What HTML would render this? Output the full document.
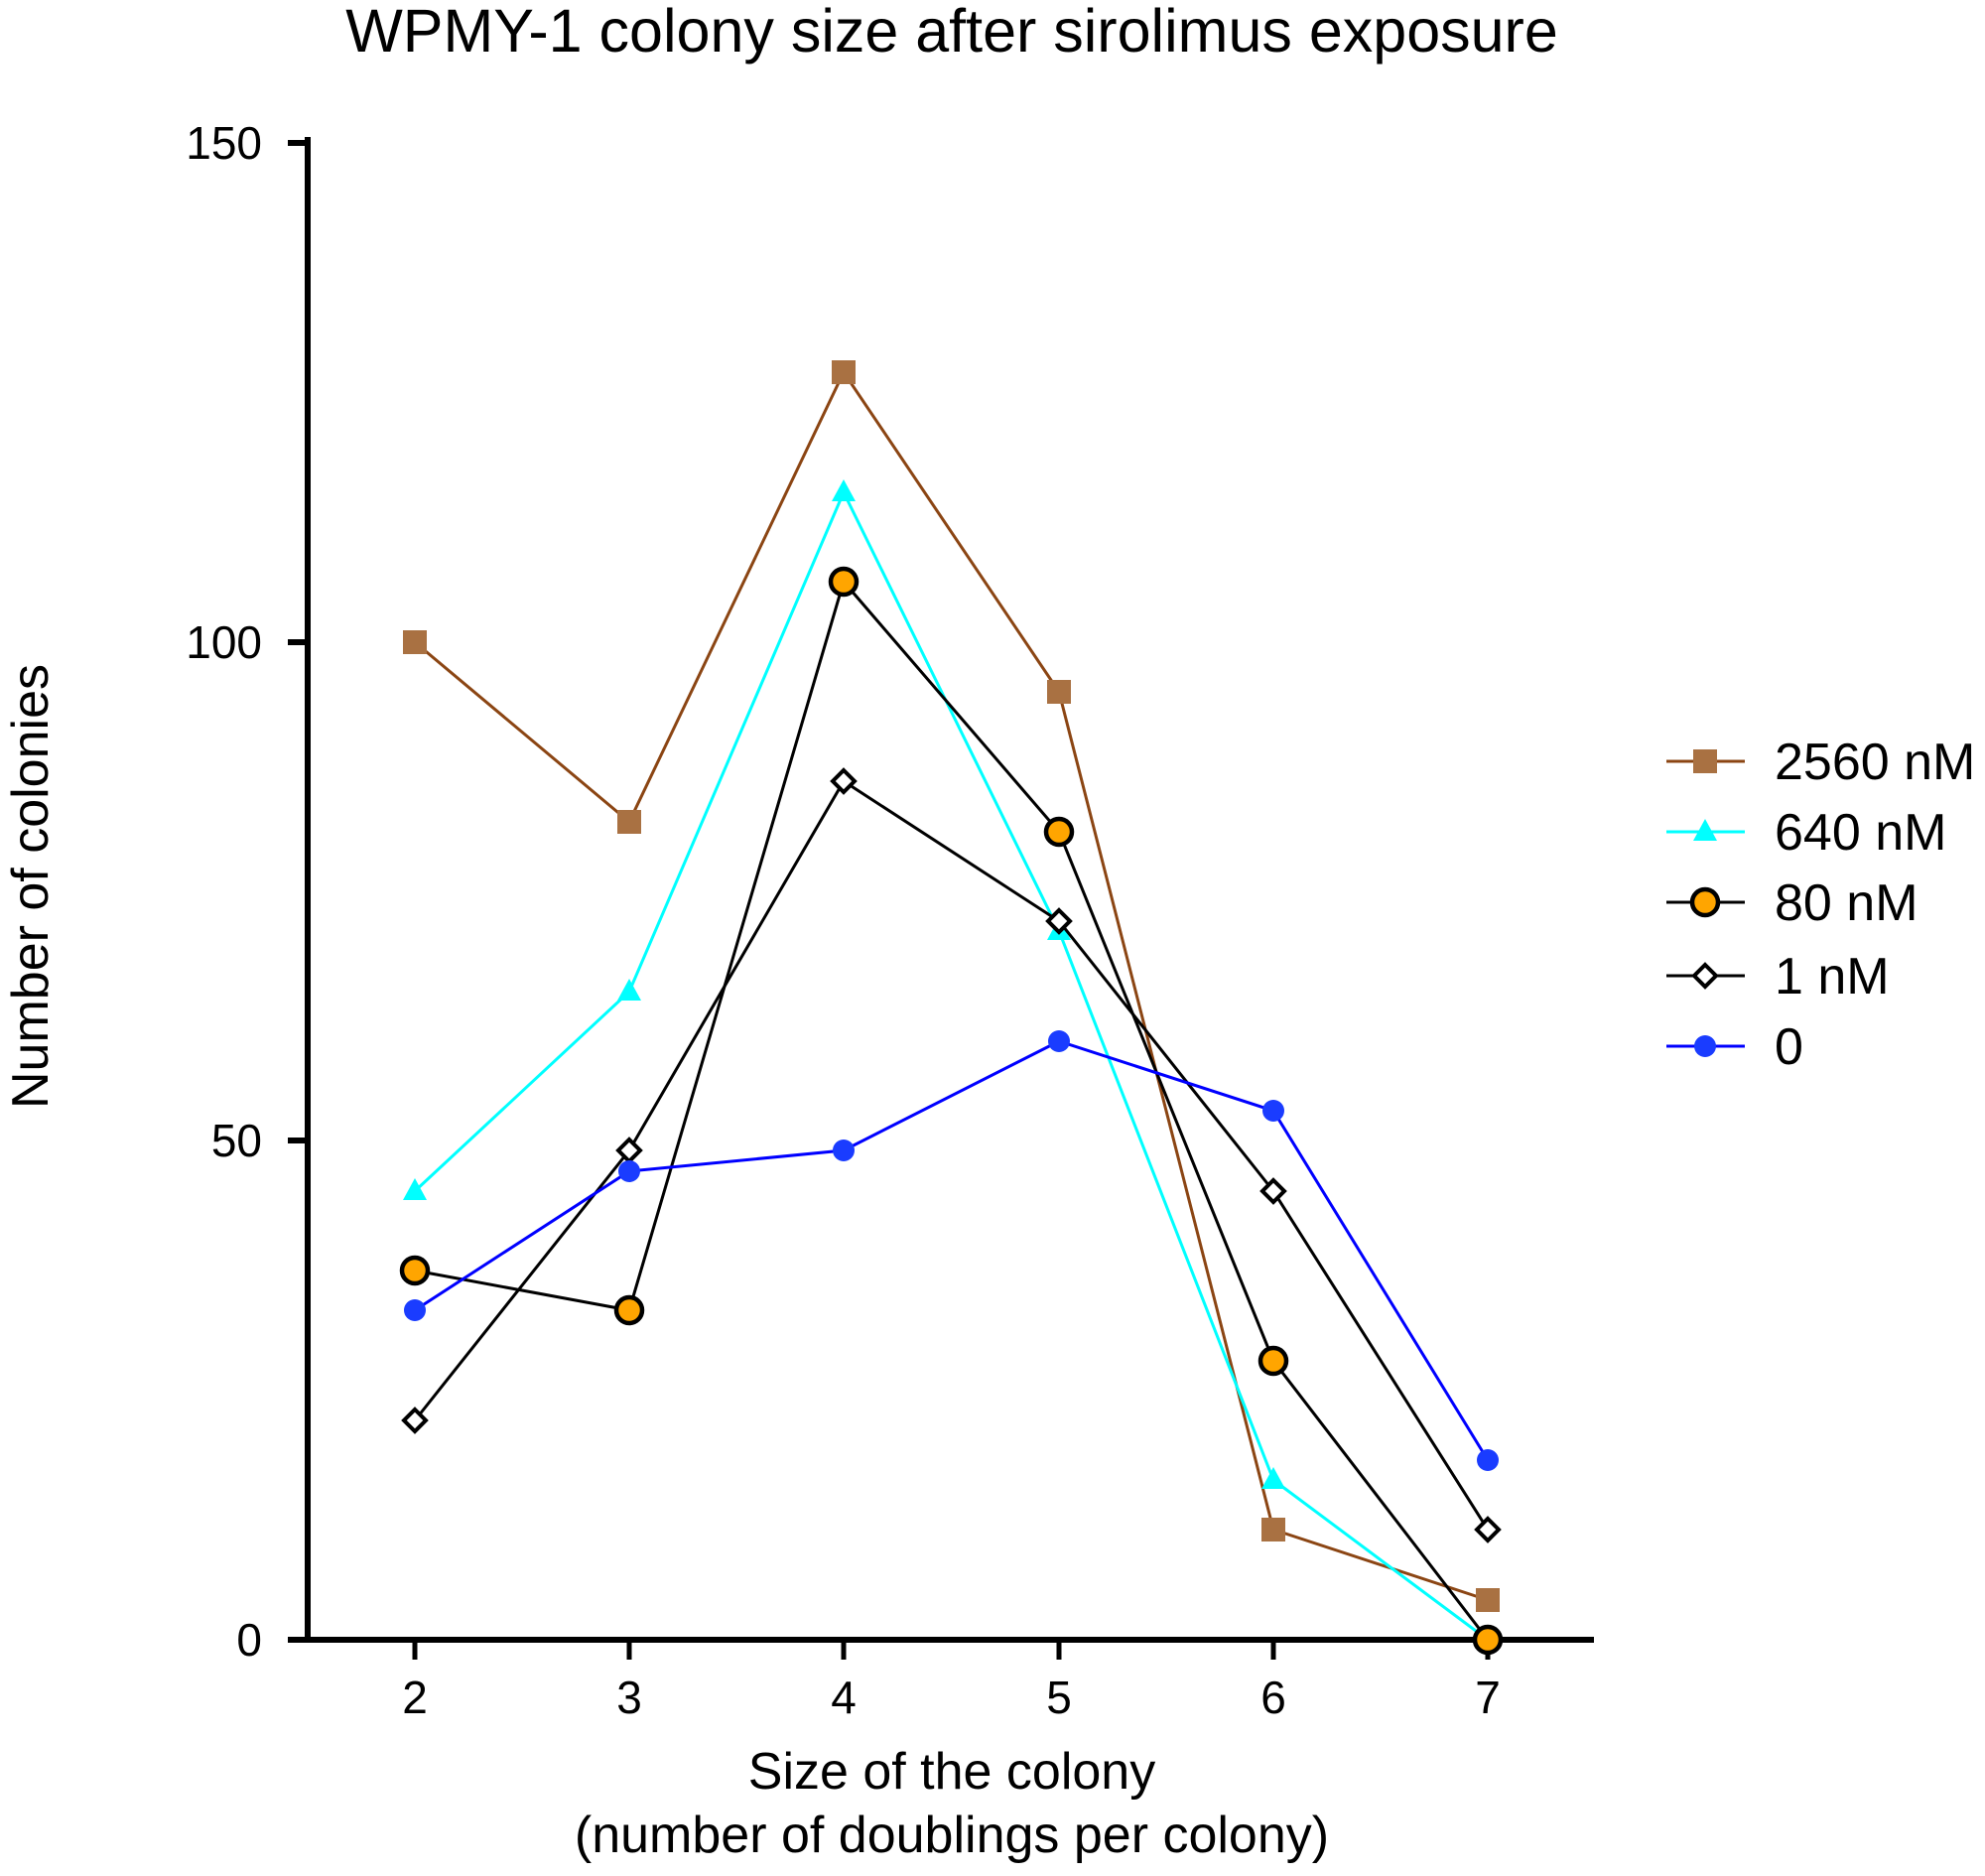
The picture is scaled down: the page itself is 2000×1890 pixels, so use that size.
<!DOCTYPE html>
<html><head><style>body{margin:0;background:#fff}</style></head><body>
<svg width="2000" height="1885" viewBox="0 0 2000 1885" xmlns="http://www.w3.org/2000/svg" font-family="Liberation Sans, Arial, sans-serif">
<rect width="2000" height="1885" fill="#fff"/>
<text x="959" y="52" font-size="61" text-anchor="middle" fill="#000">WPMY-1 colony size after sirolimus exposure</text>
<g stroke="#000" stroke-width="6" fill="none">
<line x1="310" y1="138" x2="310" y2="1655"/>
<line x1="290" y1="1652" x2="1606" y2="1652"/>
<line x1="290" y1="144" x2="310" y2="144"/>
<line x1="290" y1="647" x2="310" y2="647"/>
<line x1="290" y1="1149" x2="310" y2="1149"/>
<g stroke-width="5">
<line x1="418" y1="1652" x2="418" y2="1672"/><line x1="634" y1="1652" x2="634" y2="1672"/>
<line x1="850" y1="1652" x2="850" y2="1672"/><line x1="1067" y1="1652" x2="1067" y2="1672"/>
<line x1="1283" y1="1652" x2="1283" y2="1672"/><line x1="1499" y1="1652" x2="1499" y2="1672"/>
</g></g>
<g font-size="46" text-anchor="end" fill="#000">
<text x="264" y="160">150</text><text x="264" y="663">100</text><text x="264" y="1165">50</text><text x="264" y="1668">0</text>
</g>
<g font-size="46" text-anchor="middle" fill="#000">
<text x="418" y="1726">2</text><text x="634" y="1726">3</text><text x="850" y="1726">4</text>
<text x="1067" y="1726">5</text><text x="1283" y="1726">6</text><text x="1499" y="1726">7</text>
<text x="959" y="1802" font-size="52">Size of the colony</text>
<text x="959" y="1866" font-size="52">(number of doublings per colony)</text>
</g>
<text transform="translate(48,893) rotate(-90)" font-size="52" text-anchor="middle">Number of colonies</text>
<!-- 2560 -->
<polyline fill="none" stroke="#8B4513" stroke-width="3" points="418,647 634,828 850,375 1067,697 1283,1541 1499,1612"/>
<g fill="#A97142"><rect x="406" y="635" width="24" height="24"/><rect x="622" y="816" width="24" height="24"/><rect x="838" y="363" width="24" height="24"/><rect x="1055" y="685" width="24" height="24"/><rect x="1271" y="1529" width="24" height="24"/><rect x="1487" y="1600" width="24" height="24"/></g>
<!-- 640 -->
<polyline fill="none" stroke="#00FFFF" stroke-width="3" points="418,1200 634,999 850,496 1067,938 1283,1491 1499,1652"/>
<g fill="#00FFFF"><path d="M418,1187 l12,22 h-24z"/><path d="M634,986 l12,22 h-24z"/><path d="M850,483 l12,22 h-24z"/><path d="M1067,925 l12,22 h-24z"/><path d="M1283,1478 l12,22 h-24z"/><path d="M1499,1639 l12,22 h-24z"/></g>
<!-- 80 -->
<polyline fill="none" stroke="#000" stroke-width="3" points="418,1280 634,1320 850,586 1067,838 1283,1371 1499,1652"/>
<g fill="#FFA500" stroke="#000" stroke-width="4.5"><circle cx="418" cy="1280" r="13"/><circle cx="634" cy="1320" r="13"/><circle cx="850" cy="586" r="13"/><circle cx="1067" cy="838" r="13"/><circle cx="1283" cy="1371" r="13"/><circle cx="1499" cy="1652" r="13"/></g>
<!-- 1 nM -->
<polyline fill="none" stroke="#000" stroke-width="3" points="418,1431 634,1159 850,787 1067,928 1283,1200 1499,1541"/>
<g fill="#fff" stroke="#000" stroke-width="4"><path d="M418,1420 l11,11 -11,11 -11,-11z"/><path d="M634,1148 l11,11 -11,11 -11,-11z"/><path d="M850,776 l11,11 -11,11 -11,-11z"/><path d="M1067,917 l11,11 -11,11 -11,-11z"/><path d="M1283,1189 l11,11 -11,11 -11,-11z"/><path d="M1499,1530 l11,11 -11,11 -11,-11z"/></g>
<!-- 0 -->
<polyline fill="none" stroke="#0000FF" stroke-width="3" points="418,1320 634,1180 850,1159 1067,1049 1283,1119 1499,1471"/>
<g fill="#1a3cff"><circle cx="418" cy="1320" r="11"/><circle cx="634" cy="1180" r="11"/><circle cx="850" cy="1159" r="11"/><circle cx="1067" cy="1049" r="11"/><circle cx="1283" cy="1119" r="11"/><circle cx="1499" cy="1471" r="11"/></g>
<!-- legend -->
<g font-size="52" fill="#000">
<line x1="1679" y1="767" x2="1758" y2="767" stroke="#8B4513" stroke-width="3"/><rect x="1706" y="755" width="24" height="24" fill="#A97142"/><text x="1788" y="785">2560 nM</text>
<line x1="1679" y1="838" x2="1758" y2="838" stroke="#00FFFF" stroke-width="3"/><path d="M1718,825 l12,22 h-24z" fill="#00FFFF"/><text x="1788" y="856">640 nM</text>
<line x1="1679" y1="909" x2="1758" y2="909" stroke="#000" stroke-width="3"/><circle cx="1718" cy="909" r="13" fill="#FFA500" stroke="#000" stroke-width="4.5"/><text x="1788" y="927">80 nM</text>
<line x1="1679" y1="983" x2="1758" y2="983" stroke="#000" stroke-width="3"/><path d="M1718,972 l11,11 -11,11 -11,-11z" fill="#fff" stroke="#000" stroke-width="4"/><text x="1788" y="1001">1 nM</text>
<line x1="1679" y1="1054" x2="1758" y2="1054" stroke="#0000FF" stroke-width="3"/><circle cx="1718" cy="1054" r="11" fill="#1a3cff"/><text x="1788" y="1072">0</text>
</g>
</svg>
</body></html>
